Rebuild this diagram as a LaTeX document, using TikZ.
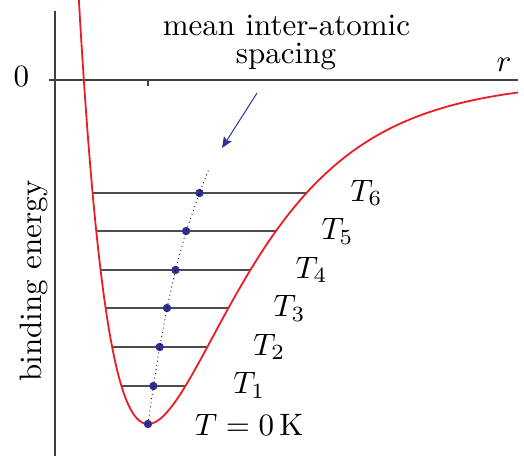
\documentclass[tikz,border=0pt]{standalone}
\usepackage{fix-cm}
\usetikzlibrary{arrows.meta}
\definecolor{curvered}{RGB}{237,28,36}
\definecolor{dotblue}{RGB}{46,49,146}
\tikzset{
  axis/.style={draw=black!75,line width=0.55pt},
  level/.style={draw=black!70,line width=0.6pt},
  dotnode/.style={circle,fill=dotblue,inner sep=0pt,minimum size=4.2pt},
  lbl/.style={inner sep=0pt,font=\fontsize{10}{9}\selectfont,scale=1.55},
  pointer/.style={draw=dotblue,line width=0.5pt,-{Stealth[length=5.5pt,width=4.6pt,inset=1pt]}},
  trail/.style={draw=black,line width=0.4pt,dash pattern=on 0.5pt off 1.6pt},
}
\begin{document}
\begin{tikzpicture}[x=0.5pt,y=-0.5pt,
  declare function={V(\r)=424-344*(1-exp(-0.0108*(\r-148)))*(1-exp(-0.0108*(\r-148)));}]
\useasboundingbox (0,0) rectangle (524,456);
% axes
\coordinate (ytop) at (55,11);
\coordinate (ybot) at (55,456);
\coordinate (xl) at (49,80);
\coordinate (xr) at (518,80);
\coordinate (tk0) at (148,80);
\coordinate (tk1) at (148,86);
\draw[axis] (ytop) -- (ybot);
\draw[axis] (xl) -- (xr);
\draw[axis] (tk0) -- (tk1);
% energy levels
\coordinate (l6a) at (92.6,193);  \coordinate (l6b) at (306.5,193);
\coordinate (l5a) at (96.2,231);  \coordinate (l5b) at (276.0,231);
\coordinate (l4a) at (100.6,270); \coordinate (l4b) at (250.4,270);
\coordinate (l3a) at (105.6,308); \coordinate (l3b) at (228.5,308);
\coordinate (l2a) at (112.1,347); \coordinate (l2b) at (207.3,347);
\coordinate (l1a) at (121.4,386); \coordinate (l1b) at (185.4,386);
\foreach \i in {1,...,6}{\draw[level] (l\i a) -- (l\i b);}
% curve
\draw[curvered,line width=0.9pt] plot[domain=78:518,samples=220,smooth] (\x,{V(\x)});
% dots
\node[dotnode] (d0) at (148,424) {};
\node[dotnode] (d1) at (153.4,386) {};
\node[dotnode] (d2) at (159.7,347) {};
\node[dotnode] (d3) at (167,308) {};
\node[dotnode] (d4) at (175.5,270) {};
\node[dotnode] (d5) at (186.1,231) {};
\node[dotnode] (d6) at (199.5,193) {};
\coordinate (dtop) at (208.5,170);
\draw[trail] (d0.center) -- (d1.center) -- (d2.center) -- (d3.center) -- (d4.center) -- (d5.center) -- (d6.center) -- (dtop);
% arrow
\coordinate (as) at (257,93);
\coordinate (ae) at (222,148);
\draw[pointer] (as) -- (ae);
% labels
\node[lbl,anchor=base] (zero) at (21.5,86) {0};
\node[lbl,anchor=base west] (rlab) at (496,71.7) {$r$};
\node[lbl,anchor=base] (t1) at (286.5,35) {mean inter-atomic};
\node[lbl,anchor=base] (t2) at (286,63) {spacing};
\node[lbl,anchor=base,rotate=90] (be) at (41.5,281) {binding energy};
\node[lbl,anchor=base west] (T6) at (350,201) {$T_6$};
\node[lbl,anchor=base west] (T5) at (321,239.5) {$T_5$};
\node[lbl,anchor=base west] (T4) at (295,278) {$T_4$};
\node[lbl,anchor=base west] (T3) at (273,316.5) {$T_3$};
\node[lbl,anchor=base west] (T2) at (252.7,355) {$T_2$};
\node[lbl,anchor=base west] (T1) at (232.7,393.5) {$T_1$};
\node[lbl,anchor=base west] (T0) at (194.3,435) {$T=0\,\mathrm{K}$};
\end{tikzpicture}
\end{document}
